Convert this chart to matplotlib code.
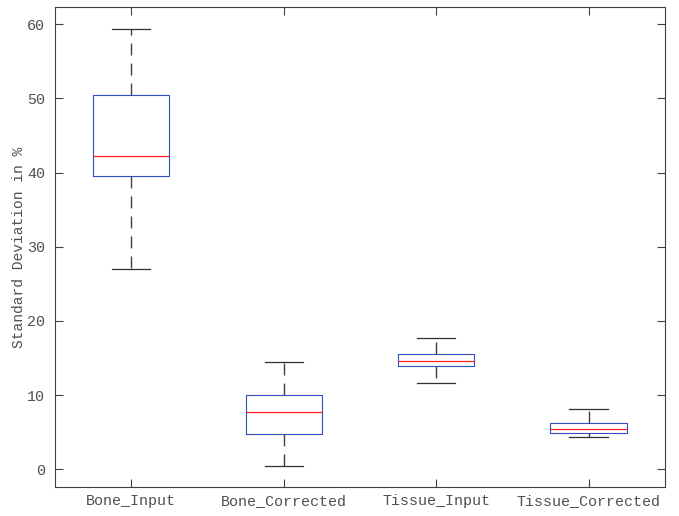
import matplotlib
matplotlib.use("Agg")
import matplotlib.pyplot as plt

# -------------------- data --------------------
labels = ["Bone_Input", "Bone_Corrected", "Tissue_Input", "Tissue_Corrected"]
whislo = [27.0, 0.5, 11.7, 4.3]
q1 = [39.6, 4.7, 13.9, 4.9]
med = [42.2, 7.7, 14.6, 5.5]
q3 = [50.4, 10.0, 15.5, 6.2]
whishi = [59.3, 14.4, 17.7, 8.1]

plt.rcParams['font.family'] = ['Liberation Mono', 'DejaVu Sans Mono']
plt.rcParams['lines.scale_dashes'] = False
axis_col = '#404040'
text_col = '#505050'

stats = [dict(label=l, whislo=a, q1=b, med=c, q3=d, whishi=e, fliers=[])
         for l, a, b, c, d, e in zip(labels, whislo, q1, med, q3, whishi)]

fig = plt.figure(figsize=(6.79, 5.16), dpi=100)
ax = fig.add_axes([0.081, 0.056, 0.898, 0.930])

ax.bxp(stats, positions=[1, 2, 3, 4], widths=0.5, showfliers=False,
       boxprops=dict(color='#3050c0', linewidth=0.8),
       medianprops=dict(color='#ff2020', linewidth=0.9),
       whiskerprops=dict(color='#404040', linewidth=1.0, linestyle=(0, (8.6, 5.8))),
       capprops=dict(color='#303030', linewidth=0.9),
       capwidths=0.25)

ax.set_xlim(0.5, 4.5)
ax.set_ylim(-2.4, 62.3)
ax.set_yticks([0, 10, 20, 30, 40, 50, 60])
ax.set_xticks([1, 2, 3, 4])
ax.set_xticklabels(labels)
ax.set_ylabel('Standard Deviation in %', fontsize=10.5, color=text_col, labelpad=1)

ax.tick_params(direction='in', length=6, width=0.8, colors=axis_col,
               labelcolor=text_col, labelsize=10.8, top=True, right=True)
ax.tick_params(axis='y', pad=7)
ax.tick_params(axis='x', pad=5)
for s in ax.spines.values():
    s.set_color(axis_col)
    s.set_linewidth(0.8)

fig.savefig('out.png', dpi=100)
